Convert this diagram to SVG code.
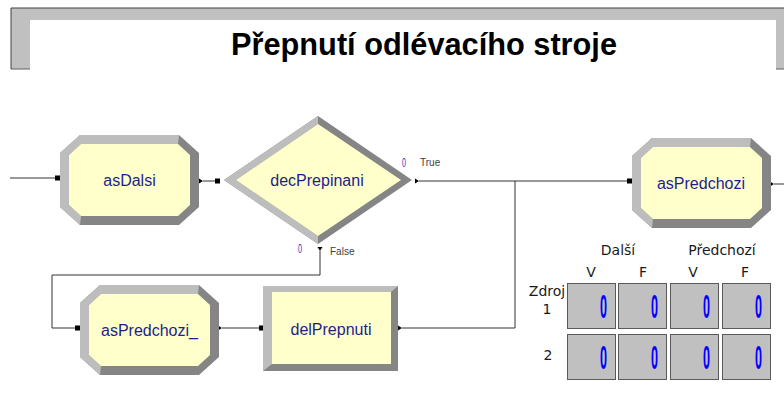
<svg xmlns="http://www.w3.org/2000/svg" xmlns:xlink="http://www.w3.org/1999/xlink" width="784" height="409" viewBox="0 0 784 409">
  <style>
    .label { font-family: "Liberation Sans", Arial, sans-serif; font-size: 16px; fill: #1e1e8c; text-anchor: middle; }
    .title { font-family: "Liberation Sans", Arial, sans-serif; font-size: 31px; font-weight: bold; fill: #000; }
    .branch { font-family: "Liberation Sans", Arial, sans-serif; font-size: 10px; fill: #404040; }
    .cnt { font-family: "Liberation Sans", Arial, sans-serif; font-size: 13px; fill: #3030c0; }
    .hdr { font-family: "DejaVu Sans", sans-serif; font-size: 14px; fill: #1a1a1a; text-anchor: middle; }
    .val { font-family: "Liberation Sans", Arial, sans-serif; font-size: 34px; font-weight: bold; fill: #0000ff; }
    .wire { fill: none; stroke: #333; stroke-width: 1; }
    .light { fill: #bdbdbd; }
    .dark { fill: #858585; }
    .face { fill: #ffffcc; }
    .cell { fill: #c0c0c0; stroke: #5a5a5a; stroke-width: 1; }
  </style>
  <defs>
    <!-- bevelled octagon used by the Assign modules -->
    <g id="octa">
      <polygon class="dark" points="20,0 119,0 139,18 139,72 119,90 20,90 0,72 0,18"/>
      <polygon class="light" points="20,90 0,72 0,18 20,0 119,0 118,9 21,9 9,20 9,70 21,81"/>
      <polygon class="face" points="21,9 118,9 130,20 130,70 118,81 21,81 9,70 9,20"/>
    </g>
    <path id="arr" d="M0,-2.5 L4,0 L0,2.5 Z" fill="#000"/>
    <rect id="port" x="0" y="-2.5" width="5" height="5" fill="#000"/>
  </defs>

  <!-- title frame -->
  <g id="titleFrame">
    <rect x="11" y="8" width="773" height="12" fill="#c0c0c0"/>
    <rect x="11" y="8" width="19" height="61" fill="#c0c0c0"/>
    <rect x="776" y="8" width="8" height="61" fill="#c0c0c0"/>
    <path d="M11,69 V8 H784" fill="none" stroke="#404040" stroke-width="1"/>
    <path d="M11,69 H30 M776,69 H784" fill="none" stroke="#606060" stroke-width="1"/>
    <text class="title" x="231" y="55" textLength="386" lengthAdjust="spacingAndGlyphs">Přepnutí odlévacího stroje</text>
  </g>

  <!-- connectors -->
  <g id="connectors">
    <path class="wire" d="M10,178 H55"/>
    <path class="wire" d="M203,181 H215"/>
    <path class="wire" d="M419,181 H627"/>
    <path class="wire" d="M402,328 H515 V181"/>
    <path class="wire" d="M320,251 V275 H52 V328 H75"/>
    <path class="wire" d="M222,328 H259"/>
    <path class="wire" d="M774,184 H784"/>
    <use xlink:href="#port" x="55" y="178"/>
    <use xlink:href="#arr" x="199" y="181"/>
    <use xlink:href="#port" x="215" y="181"/>
    <use xlink:href="#arr" x="415" y="181"/>
    <use xlink:href="#arr" transform="translate(320,247) rotate(90)"/>
    <use xlink:href="#port" x="627" y="181"/>
    <use xlink:href="#port" x="75" y="328"/>
    <use xlink:href="#arr" x="218" y="328"/>
    <use xlink:href="#port" x="259" y="328"/>
    <use xlink:href="#arr" x="398" y="328"/>
    <use xlink:href="#arr" x="770" y="184"/>
  </g>

  <!-- Assign: asDalsi -->
  <g id="asDalsi">
    <use xlink:href="#octa" transform="translate(60,135)"/>
    <text class="label" x="129.5" y="186">asDalsi</text>
  </g>

  <!-- Decide: decPrepinani -->
  <g id="decPrepinani">
    <polygon class="dark" points="318,116 412,180 318,244 224,180"/>
    <polygon class="light" points="318,116 224,180 318,244 318,236 236,180 318,124"/>
    <polygon class="face" points="318,124 401,180 318,236 236,180"/>
    <text class="label" x="317" y="186">decPrepinani</text>
    <text class="cnt" x="402" y="167" textLength="4" lengthAdjust="spacingAndGlyphs">0</text>
    <text class="branch" x="420" y="166">True</text>
    <text class="cnt" x="298" y="253" textLength="4" lengthAdjust="spacingAndGlyphs">0</text>
    <text class="branch" x="330" y="255">False</text>
  </g>

  <!-- Assign: asPredchozi -->
  <g id="asPredchozi">
    <use xlink:href="#octa" transform="translate(632,138)"/>
    <text class="label" x="701" y="189">asPredchozi</text>
  </g>

  <!-- Assign: asPredchozi_ -->
  <g id="asPredchozi_">
    <use xlink:href="#octa" transform="translate(80,285)"/>
    <text class="label" x="149.5" y="336">asPredchozi_</text>
  </g>

  <!-- Delay: delPrepnuti -->
  <g id="delPrepnuti">
    <rect class="dark" x="263" y="286" width="135" height="85"/>
    <polygon class="light" points="263,371 263,286 398,286 391,292 272,292 272,364"/>
    <rect class="face" x="272" y="292" width="119" height="72"/>
    <text class="label" x="331" y="335">delPrepnuti</text>
  </g>

  <!-- counter table -->
  <g id="counterTable">
    <text class="hdr" x="618" y="255">Další</text>
    <text class="hdr" x="722" y="255">Předchozí</text>
    <text class="hdr" x="591" y="277">V</text>
    <text class="hdr" x="643" y="277">F</text>
    <text class="hdr" x="693" y="277">V</text>
    <text class="hdr" x="745" y="277">F</text>
    <text class="hdr" x="547" y="296">Zdroj</text>
    <text class="hdr" x="547" y="314">1</text>
    <text class="hdr" x="548" y="360">2</text>

    <rect class="cell" x="567.5" y="283.5" width="48" height="45"/>
    <rect class="cell" x="618.5" y="283.5" width="48" height="45"/>
    <rect class="cell" x="670.5" y="283.5" width="48" height="45"/>
    <rect class="cell" x="722.5" y="283.5" width="48" height="45"/>
    <rect class="cell" x="567.5" y="334.5" width="48" height="45"/>
    <rect class="cell" x="618.5" y="334.5" width="48" height="45"/>
    <rect class="cell" x="670.5" y="334.5" width="48" height="45"/>
    <rect class="cell" x="722.5" y="334.5" width="48" height="45"/>

    <text class="val" x="600" y="318" textLength="7" lengthAdjust="spacingAndGlyphs">0</text>
    <text class="val" x="651" y="318" textLength="7" lengthAdjust="spacingAndGlyphs">0</text>
    <text class="val" x="703" y="318" textLength="7" lengthAdjust="spacingAndGlyphs">0</text>
    <text class="val" x="755" y="318" textLength="7" lengthAdjust="spacingAndGlyphs">0</text>
    <text class="val" x="600" y="369" textLength="7" lengthAdjust="spacingAndGlyphs">0</text>
    <text class="val" x="651" y="369" textLength="7" lengthAdjust="spacingAndGlyphs">0</text>
    <text class="val" x="703" y="369" textLength="7" lengthAdjust="spacingAndGlyphs">0</text>
    <text class="val" x="755" y="369" textLength="7" lengthAdjust="spacingAndGlyphs">0</text>
  </g>
</svg>
